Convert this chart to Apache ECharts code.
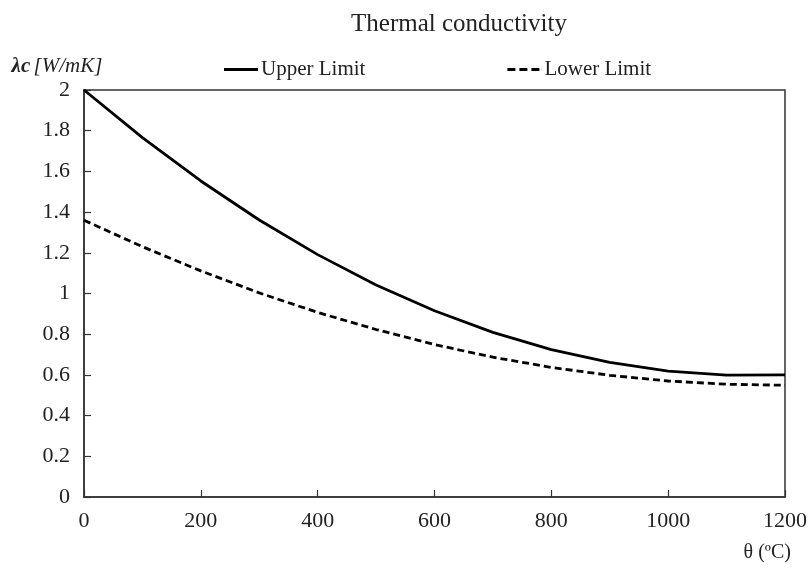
<!DOCTYPE html>
<html><head><meta charset="utf-8">
<script src="https://cdn.jsdelivr.net/npm/echarts@6/dist/echarts.min.js"></script>
<style>html,body{margin:0;padding:0;background:#fff}#c{width:810px;height:572px}</style>
</head><body><div id="c"></div>
<script>
const temps = [0,100,200,300,400,500,600,700,800,900,1000,1100,1200];
const upperLimit = [2.0,1.766,1.553,1.361,1.191,1.042,0.915,0.809,0.724,0.661,0.619,0.599,0.600];
const lowerLimit = [1.36,1.230,1.111,1.003,0.907,0.823,0.749,0.687,0.637,0.598,0.570,0.554,0.549];
const xTicks = [0,200,400,600,800,1000,1200];
const yTicks = [0,0.2,0.4,0.6,0.8,1,1.2,1.4,1.6,1.8,2];
const seriesNames = ['Upper Limit','Lower Limit'];
const F = '"Liberation Serif","Times New Roman",serif';
const solidIcon = 'path://M0,0H34V3H0Z';
const dashIcon = 'path://M0,0H8V3H0Z M12,0H20V3H12Z M24,0H32V3H24Z M33.9,0H34V3H33.9Z';
const chart = echarts.init(document.getElementById('c'));
chart.setOption({
  animation:false,
  backgroundColor:'#fff',
  title:{text:'Thermal conductivity',left:454,top:7,textAlign:'center',
    textStyle:{fontFamily:F,fontWeight:'normal',fontSize:25,color:'#222'}},
  legend:{left:219,top:54,itemGap:142,itemWidth:34,itemHeight:3,
    data:[{name:seriesNames[0],icon:solidIcon},{name:seriesNames[1],icon:dashIcon}],
    itemStyle:{color:'#000',borderWidth:0},
    textStyle:{fontFamily:F,fontSize:21,color:'#222',padding:[0,0,0,-2]}},
  grid:{left:84,right:24,top:90,bottom:75,show:true,borderColor:'#333',borderWidth:1.5,containLabel:false},
  xAxis:{type:'value',min:0,max:1200,interval:200,
    name:'θ (ºC)',nameLocation:'end',nameGap:0,
    nameTextStyle:{fontFamily:F,fontSize:20,color:'#222',align:'right',verticalAlign:'top',padding:[46,-6,0,0]},
    axisLine:{show:true,onZero:false,lineStyle:{color:'#333',width:1.5}},
    axisTick:{show:true,inside:true,length:7,lineStyle:{color:'#333',width:1.2}},
    axisLabel:{fontFamily:F,fontSize:22,color:'#222',margin:13,formatter:v=>xTicks.includes(v)?String(v):''},
    splitLine:{show:false}},
  yAxis:{type:'value',min:0,max:2,interval:0.2,
    name:'{l|λc} {u|[W/mK]}',nameLocation:'end',nameGap:13,
    nameTextStyle:{align:'center',padding:[0,0,0,-54],rich:{
      l:{fontFamily:F,fontStyle:'italic',fontWeight:'bold',fontSize:21,color:'#222'},
      u:{fontFamily:F,fontStyle:'italic',fontSize:21,color:'#222'}}},
    axisLine:{show:true,lineStyle:{color:'#333',width:1.5}},
    axisTick:{show:true,inside:true,length:7,lineStyle:{color:'#333',width:1.2}},
    axisLabel:{fontFamily:F,fontSize:22,color:'#222',margin:14,
      formatter:v=>{const t=yTicks.find(y=>Math.abs(y-v)<1e-9);return t===undefined?'':String(t);}},
    splitLine:{show:false}},
  series:[
    {name:seriesNames[0],type:'line',data:temps.map((t,i)=>[t,upperLimit[i]]),
      symbol:'none',lineStyle:{color:'#000',width:2.8,type:'solid'},itemStyle:{color:'#000'}},
    {name:seriesNames[1],type:'line',data:temps.map((t,i)=>[t,lowerLimit[i]]),
      symbol:'none',lineStyle:{color:'#000',width:2.8,type:[7,4]},itemStyle:{color:'#000'}}
  ]
});
</script></body></html>
